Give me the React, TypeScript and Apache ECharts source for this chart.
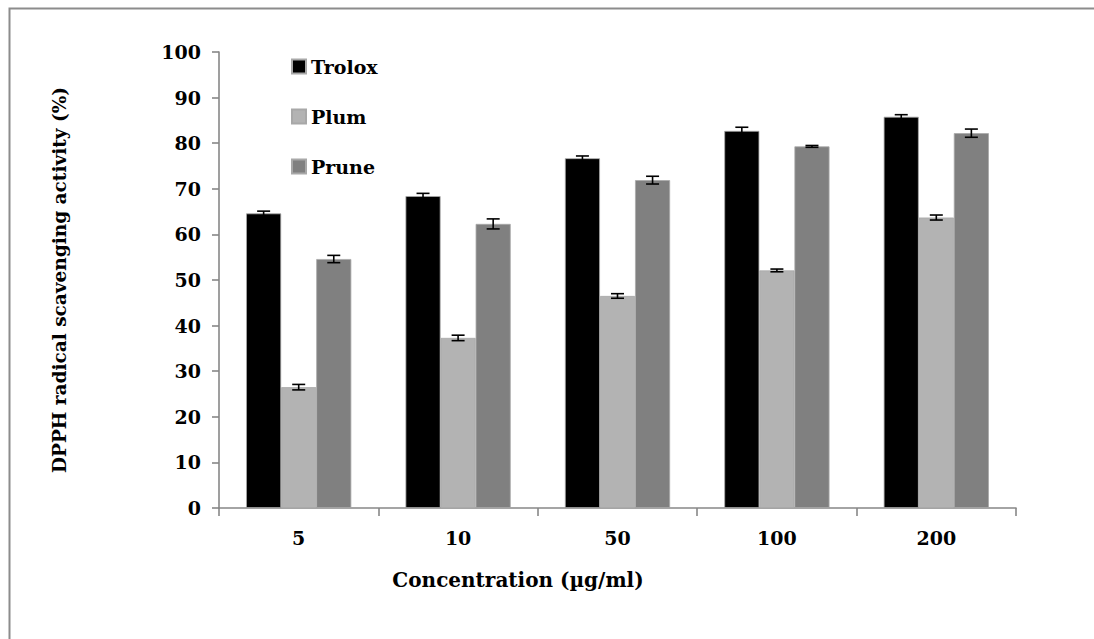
import React, { useEffect, useRef } from "react";
import * as echarts from "echarts";

// Concentrations tested (µg/ml)
const categories = ["5", "10", "50", "100", "200"];

// DPPH radical scavenging activity (%) for each sample
const trolox = [64.6, 68.4, 76.7, 82.7, 85.8];
const plum = [26.5, 37.3, 46.5, 52.1, 63.7];
const prune = [54.6, 62.3, 71.9, 79.3, 82.2];

// Standard deviations (±)
const troloxErr = [0.5, 0.6, 0.5, 0.8, 0.45];
const plumErr = [0.6, 0.6, 0.5, 0.3, 0.55];
const pruneErr = [0.8, 1.1, 0.85, 0.2, 0.9];

const seriesNames = ["Trolox", "Plum", "Prune"];
const seriesColors = ["#000000", "#b3b3b3", "#808080"];

const FONT = "'DejaVu Serif', 'Liberation Serif', serif";
const BAR_WIDTH_RATIO = 0.22;

function errorSeries(values: number[], errs: number[], index: number) {
  const data = values.map((v, i) => [i, v - errs[i], v + errs[i]]);
  return {
    type: "custom",
    name: seriesNames[index] + " SD",
    z: 10,
    data,
    encode: { x: 0, y: [1, 2] },
    renderItem: (params: any, api: any) => {
      const cat = api.value(0);
      const low = api.coord([cat, api.value(1)]);
      const high = api.coord([cat, api.value(2)]);
      const band = api.size([1, 0])[0];
      const x = low[0] + (index - 1) * band * BAR_WIDTH_RATIO;
      const cap = 6.5;
      const style = { stroke: "#000", lineWidth: 1.6 };
      return {
        type: "group",
        children: [
          { type: "line", shape: { x1: x, y1: low[1], x2: x, y2: high[1] }, style },
          { type: "line", shape: { x1: x - cap, y1: high[1], x2: x + cap, y2: high[1] }, style },
          { type: "line", shape: { x1: x - cap, y1: low[1], x2: x + cap, y2: low[1] }, style },
        ],
      };
    },
  };
}

export default function App() {
  const ref = useRef<HTMLDivElement>(null);

  useEffect(() => {
    document.body.style.margin = "0";
    if (!ref.current) return;
    const chart = echarts.init(ref.current, null, { renderer: "svg" });
    const barSeries = [trolox, plum, prune].map((vals, i) => ({
      type: "bar",
      name: seriesNames[i],
      data: vals,
      barWidth: BAR_WIDTH_RATIO * 100 + "%",
      barGap: "0%",
      itemStyle: {
        color: seriesColors[i],
        borderColor: "#a8a8a8",
        borderWidth: 0.8,
      },
    }));

    chart.setOption({
      animation: false,
      backgroundColor: "#ffffff",
      grid: { left: 219, right: 78, top: 52, bottom: 131 },
      legend: {
        data: seriesNames,
        orient: "vertical",
        left: 286,
        top: 52,
        itemWidth: 14,
        itemHeight: 14,
        itemGap: 31,
        icon: "rect",
        textStyle: { fontFamily: FONT, fontWeight: "bold", fontSize: 19, color: "#000" },
      },
      xAxis: {
        type: "category",
        data: categories,
        axisLine: { lineStyle: { color: "#878787", width: 1.6 } },
        axisTick: { show: true, length: 8, lineStyle: { color: "#878787", width: 1.6 } },
        axisLabel: {
          fontFamily: FONT,
          fontWeight: "bold",
          fontSize: 19,
          color: "#000",
          margin: 20,
        },
      },
      yAxis: {
        type: "value",
        min: 0,
        max: 100,
        interval: 10,
        name: "DPPH radical scavenging activity (%)",
        nameLocation: "middle",
        nameGap: 150,
        nameTextStyle: { fontFamily: FONT, fontWeight: "bold", fontSize: 18.5, color: "#000" },
        splitLine: { show: false },
        axisLine: { show: true, lineStyle: { color: "#878787", width: 1.6 } },
        axisTick: { show: true, length: 7, lineStyle: { color: "#878787", width: 1.6 } },
        axisLabel: {
          fontFamily: FONT,
          fontWeight: "bold",
          fontSize: 19,
          color: "#000",
          margin: 18,
        },
      },
      graphic: [
        {
          type: "rect",
          left: 7,
          top: 6,
          z: -10,
          shape: { width: 1200, height: 800 },
          style: { fill: "none", stroke: "#8c8c8c", lineWidth: 2 },
          silent: true,
        },
        {
          type: "text",
          x: 518,
          y: 580,
          style: {
            text: "Concentration (µg/ml)",
            fontFamily: FONT,
            fontWeight: "bold",
            fontSize: 20,
            fill: "#000",
            align: "center",
            verticalAlign: "middle",
          },
        },
      ],
      series: [
        ...barSeries,
        errorSeries(trolox, troloxErr, 0),
        errorSeries(plum, plumErr, 1),
        errorSeries(prune, pruneErr, 2),
      ],
    });
    return () => chart.dispose();
  }, []);

  return <div ref={ref} style={{ width: 1094, height: 639 }} />;
}
